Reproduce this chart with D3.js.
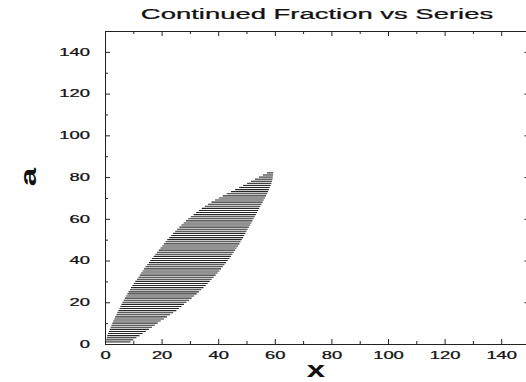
<!DOCTYPE html>
<meta charset="utf-8">
<style>
    body { margin: 0; background: #fff; }
    .axis text { font: 10.5px "Liberation Sans", Arial, sans-serif; fill: #111; stroke: #111; stroke-width: 0.25px; }
    .axis path, .axis line { fill: none; stroke: #222; stroke-width: 1px; }
    .title { font: 15px "Liberation Sans", Arial, sans-serif; fill: #111; stroke: #111; stroke-width: 0.25px; }
    .lab { font: bold 22px "Liberation Sans", Arial, sans-serif; fill: #111; }
</style>
<svg width="526" height="382" id="chart"></svg>
<script src="https://d3js.org/d3.v7.min.js"></script>
<script>

    // a value of each horizontal line (integer a)
    var aValues = [1,2,3,4,5,6,7,8,9,10,11,12,13,14,15,16,17,18,19,20,
        21,22,23,24,25,26,27,28,29,30,31,32,33,34,35,36,37,38,39,40,
        41,42,43,44,45,46,47,48,49,50,51,52,53,54,55,56,57,58,59,60,
        61,62,63,64,65,66,67,68,69,70,71,72,73,74,75,76,77,78,79,80,81,82];

    // x where each line starts (left edge of the band)
    var xStart = [0.2,0.4,0.6,0.8,1.1,1.4,1.7,2.0,2.3,2.6,2.9,3.3,3.6,4.0,4.3,4.7,5.1,5.4,5.8,6.2,
        6.6,7.0,7.5,7.9,8.3,8.8,9.2,9.7,10.2,10.7,11.3,11.8,12.3,12.8,13.3,13.8,14.3,14.9,15.5,16.0,
        16.6,17.2,17.8,18.4,19.0,19.6,20.2,20.8,21.4,22.0,22.7,23.4,24.1,24.8,25.5,26.3,27.0,27.8,28.6,29.4,
        30.3,31.3,32.2,33.2,34.2,35.3,36.4,37.6,38.9,40.2,41.6,43.0,44.5,46.0,47.4,48.8,50.2,51.6,53.0,54.4,55.8,57.2];

    // x where each line ends (right edge of the band)
    var xEnd = [9.0,10.0,11.1,12.2,13.3,14.4,15.5,16.6,17.6,18.6,19.7,20.8,21.9,23.0,24.1,25.2,26.1,27.0,27.9,28.8,
        29.7,30.6,31.5,32.4,33.2,34.0,34.8,35.6,36.3,37.0,37.7,38.4,39.1,39.8,40.4,41.0,41.6,42.2,42.8,43.4,
        44.0,44.5,45.0,45.5,46.0,46.5,47.0,47.5,47.9,48.3,48.8,49.2,49.6,50.0,50.4,50.8,51.3,51.7,52.1,52.5,
        52.9,53.3,53.7,54.1,54.5,54.9,55.3,55.7,56.1,56.5,56.9,57.3,57.6,57.9,58.2,58.5,58.8,59.0,59.2,59.3,59.4,59.5];

    var majorTicks = [0,20,40,60,80,100,120,140];
    var minorTicks = [10,30,50,70,90,110,130,150];

    var plotLeft = 105, plotRight = 529.5, plotTop = 31, plotBottom = 344;
    var xScale = d3.scaleLinear().domain([0,150]).range([plotLeft, plotRight]);
    var yScale = d3.scaleLinear().domain([0,150]).range([plotBottom, plotTop]);

    var svg = d3.select("#chart");

    // the horizontal lines
    var lines = aValues.map((a,i) => ({a: a, x0: xStart[i], x1: xEnd[i]}));
    svg.append("g")
        .selectAll("line")
        .data(lines)
        .enter()
        .append("line")
        .attr("x1", d => xScale(d.x0))
        .attr("x2", d => xScale(d.x1))
        .attr("y1", d => yScale(d.a))
        .attr("y2", d => yScale(d.a))
        .style("stroke", "#262626")
        .style("stroke-width", "1.1px");

    var stretch = 1.75; // the old plot's lettering is very wide

    // bottom axis, ticks point up
    svg.append("g").attr("class", "axis").attr("transform", "translate(0," + plotBottom + ")")
        .call(d3.axisBottom(xScale).tickValues(majorTicks).tickSize(-5).tickSizeOuter(0))
        .selectAll("text")
        .attr("y", 0)
        .attr("transform", "translate(0,8) scale(" + stretch + ",1)");
    svg.append("g").attr("class", "axis").attr("transform", "translate(0," + plotBottom + ")")
        .call(d3.axisBottom(xScale).tickValues(minorTicks).tickSize(-3).tickSizeOuter(0).tickFormat(""));

    // left axis, ticks point right
    svg.append("g").attr("class", "axis").attr("transform", "translate(" + plotLeft + ",0)")
        .call(d3.axisLeft(yScale).tickValues(majorTicks).tickSize(-5).tickSizeOuter(0))
        .selectAll("text")
        .attr("x", 0)
        .attr("transform", "translate(-15,0) scale(" + stretch + ",1)");
    svg.append("g").attr("class", "axis").attr("transform", "translate(" + plotLeft + ",0)")
        .call(d3.axisLeft(yScale).tickValues(minorTicks).tickSize(-3).tickSizeOuter(0).tickFormat(""));

    // top and right frame with inward ticks
    svg.append("g").attr("class", "axis").attr("transform", "translate(0," + plotTop + ")")
        .call(d3.axisTop(xScale).tickValues(majorTicks).tickSize(-5).tickSizeOuter(0).tickFormat(""));
    svg.append("g").attr("class", "axis").attr("transform", "translate(0," + plotTop + ")")
        .call(d3.axisTop(xScale).tickValues(minorTicks).tickSize(-3).tickSizeOuter(0).tickFormat(""));
    svg.append("g").attr("class", "axis").attr("transform", "translate(" + plotRight + ",0)")
        .call(d3.axisRight(yScale).tickValues(majorTicks).tickSize(-5).tickSizeOuter(0).tickFormat(""));
    svg.append("g").attr("class", "axis").attr("transform", "translate(" + plotRight + ",0)")
        .call(d3.axisRight(yScale).tickValues(minorTicks).tickSize(-3).tickSizeOuter(0).tickFormat(""));

    // title
    svg.append("text").attr("class", "title")
        .attr("text-anchor", "middle")
        .attr("transform", "translate(317,19) scale(1.83,1)")
        .text("Continued Fraction vs Series");

    // axis labels
    svg.append("text").attr("class", "lab")
        .attr("text-anchor", "middle")
        .attr("transform", "translate(316,377) scale(1.5,1)")
        .text("x");
    svg.append("text").attr("class", "lab")
        .attr("text-anchor", "middle")
        .attr("transform", "translate(36,177) rotate(-90) scale(1.5,1)")
        .text("a");

</script>
